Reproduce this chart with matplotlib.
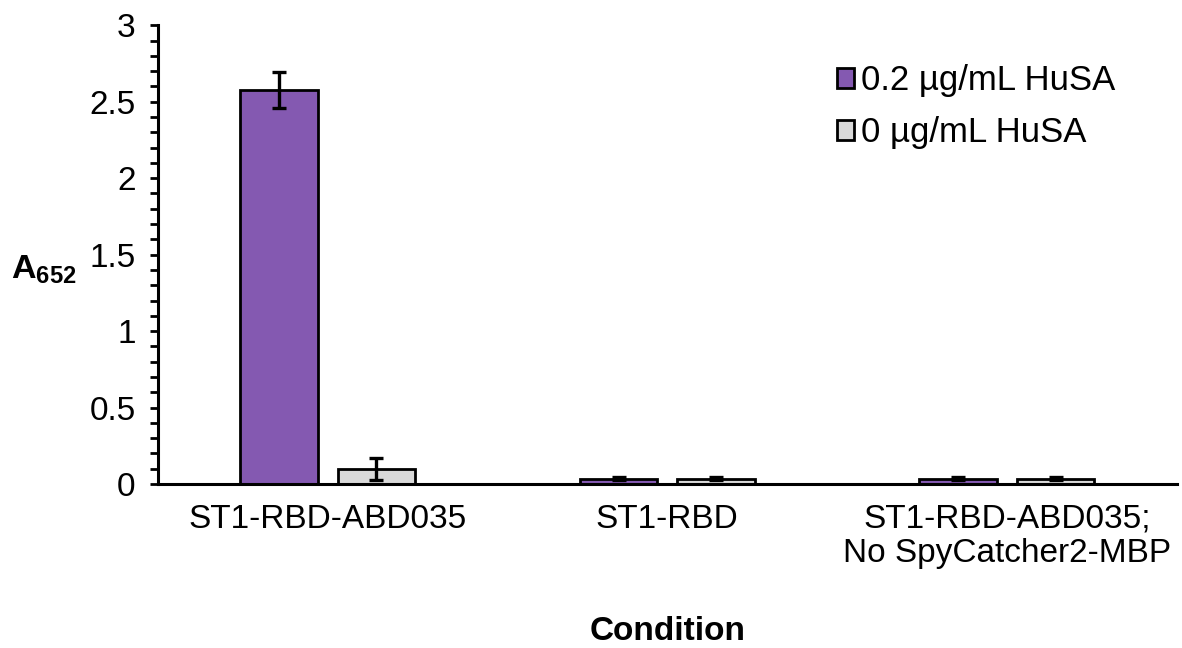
import matplotlib
matplotlib.use("Agg")
import matplotlib.pyplot as plt
import numpy as np
from matplotlib.ticker import MultipleLocator

plt.rcParams['font.family'] = ['Liberation Sans', 'DejaVu Sans']
plt.rcParams['mathtext.fontset'] = 'custom'
plt.rcParams['mathtext.rm'] = 'Liberation Sans'
plt.rcParams['mathtext.bf'] = 'Liberation Sans:bold'

categories = ["ST1-RBD-ABD035", "ST1-RBD", "ST1-RBD-ABD035;\nNo SpyCatcher2-MBP"]
series_names = ["0.2 µg/mL HuSA", "0 µg/mL HuSA"]
vals_02 = [2.575, 0.035, 0.035]
err_02 = [0.118, 0.008, 0.01]
vals_0 = [0.098, 0.035, 0.035]
err_0 = [0.072, 0.01, 0.008]
colors = ["#8459B1", "#D9D9D9"]

fig = plt.figure(figsize=(11.82, 6.48), dpi=100)
ax = fig.add_axes([0.1335, 0.253, 0.862, 0.708])

x = np.arange(len(categories))
w = 0.228
off = 0.1435
for vals, errs, col, name, sgn in [(vals_02, err_02, colors[0], series_names[0], -1),
                                   (vals_0, err_0, colors[1], series_names[1], 1)]:
    ax.bar(x + sgn * off, vals, width=w, color=col, edgecolor='black', linewidth=2.0,
           label=name, zorder=2)
    ax.errorbar(x + sgn * off, vals, yerr=errs, fmt='none', ecolor='black',
                elinewidth=2.4, capsize=5, capthick=2.4, zorder=3)

ax.set_xlim(-0.5, 2.5)
ax.set_ylim(0, 3)
ax.yaxis.set_major_locator(MultipleLocator(0.5))
ax.yaxis.set_minor_locator(MultipleLocator(0.1))
ax.set_yticks([0, 0.5, 1, 1.5, 2, 2.5, 3])
ax.set_yticklabels(["0", "0.5", "1", "1.5", "2", "2.5", "3"])
ax.set_xticks(x)
ax.set_xticklabels(categories, fontsize=24, linespacing=1.15)
ax.tick_params(axis='x', length=0, pad=14)
ax.tick_params(axis='y', which='major', length=6, width=2, labelsize=24, pad=10)
ax.tick_params(axis='y', which='minor', length=6, width=2)

for s in ['top', 'right']:
    ax.spines[s].set_visible(False)
for s in ['left', 'bottom']:
    ax.spines[s].set_linewidth(2.2)

ax.set_xlabel("Condition", fontsize=24, fontweight='bold', labelpad=34)
fig.text(0.009, 0.584, r'$\mathbf{A}_{\mathbf{652}}$', fontsize=24.5, ha='left', va='center')

leg = ax.legend(loc='upper right', bbox_to_anchor=(0.94, 0.915), frameon=False,
                fontsize=25, handlelength=0.5, handleheight=0.5, handletextpad=0.2,
                labelspacing=0.55, borderaxespad=0, borderpad=0)
for h in leg.legend_handles:
    h.set_linewidth(2.0)

fig.savefig("out.png", dpi=100)
